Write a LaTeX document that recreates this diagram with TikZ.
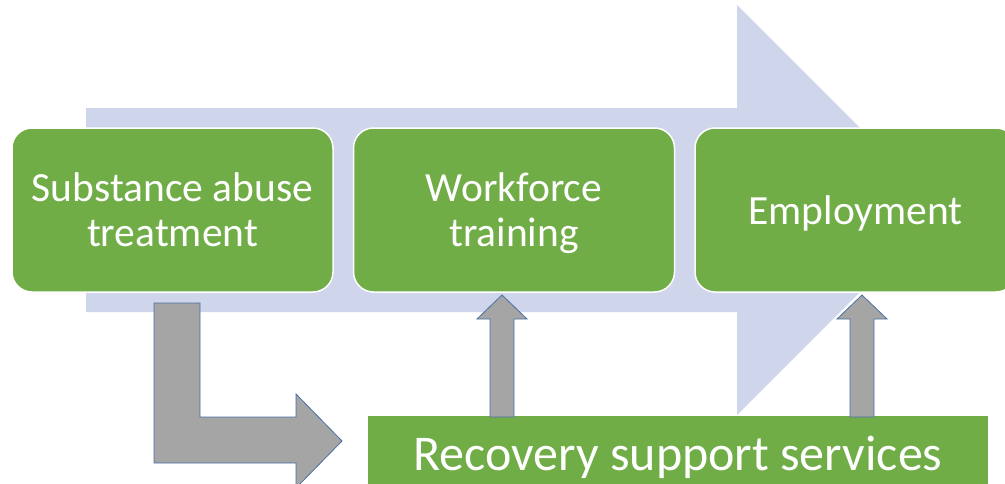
\documentclass[tikz,border=0pt]{standalone}
\usepackage{fontspec}
\setmainfont{Carlito}
\definecolor{boxgreen}{HTML}{70AD47}
\definecolor{flowblue}{HTML}{CFD5EA}
\definecolor{arrgray}{HTML}{A5A5A5}
\definecolor{arredge}{HTML}{4A6FA5}
\def\upblock(#1:#2:#3){\draw[fill=arrgray, draw=arredge, line width=0.8] ({#1-12}, #3) -- ({#1-12}, {#2+24}) -- ({#1-25}, {#2+24}) -- (#1, #2) -- ({#1+25}, {#2+24}) -- ({#1+12}, {#2+24}) -- ({#1+12}, #3) -- cycle;}

\begin{document}
\begin{tikzpicture}[x=1pt, y=-1pt,
	stage/.style={fill=boxgreen, draw=white, line width=1.5pt, rounded corners=20pt, minimum width=321pt, minimum height=164pt, text=white, align=center, text depth=0pt, font=\fontsize{41.5}{45}\selectfont},
	rssbar/.style={fill=boxgreen, minimum width=620pt, minimum height=74pt, inner sep=0pt, text=white, text depth=0pt, font=\fontsize{50}{56}\selectfont}]
		%%%%% START %%%%%
		\useasboundingbox (0, 0) rectangle (1005, 483);
		\clip (0, 0) rectangle (1005, 483);
		
		% big flow arrow behind the stages
		\fill[flowblue] (86, 108) -- (737, 108) -- (737, 5) -- (942, 210) -- (737, 415) -- (737, 312) -- (86, 312) -- cycle;
		
		\node[stage] (sat) at (172.5, 210) {Substance abuse\\treatment};
		\node[stage] (wft) at (514, 210) {Workforce\\training};
		\node[stage] (emp) at (855.5, 210) {Employment};
		
		% bent arrow down and right
		\draw[fill=arrgray, draw=arredge, line width=0.8] (154, 303) -- (200, 303) -- (200, 417) -- (296, 417) -- (296, 394) -- (342, 441) -- (296, 488) -- (296, 463) -- (154, 463) -- cycle;
		
		\node[rssbar] (rss) at (678, 453) {Recovery support services};
		
		\upblock(502:295:417);
		\upblock(862:295:417);
		%%%%% END %%%%%
	\end{tikzpicture}
\end{document}
